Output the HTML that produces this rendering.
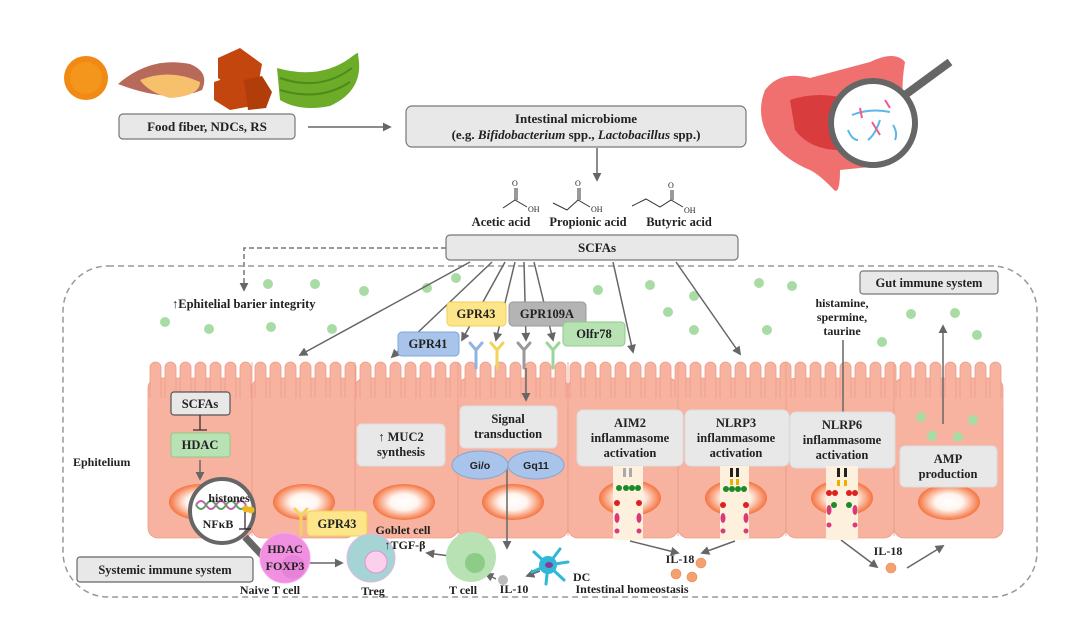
<!DOCTYPE html>
<html><head><meta charset="utf-8"><style>
html,body{margin:0;padding:0;background:#fff}
svg{display:block}
text{font-family:"Liberation Serif",serif;font-weight:bold;fill:#222}
</style></head><body>
<svg width="1080" height="618" viewBox="0 0 1080 618" xmlns="http://www.w3.org/2000/svg">
<defs>
<marker id="ah" viewBox="0 0 10 10" refX="8" refY="5" markerWidth="6" markerHeight="6" orient="auto"><path d="M0,0 L10,5 L0,10 z" fill="#666"/></marker>
<pattern id="vil" x="148" y="0" width="15" height="618" patternUnits="userSpaceOnUse">
<rect x="2" y="362" width="11" height="80" rx="5.5" fill="#f7b2a0" stroke="#eb9c88" stroke-width="0.8"/>
</pattern>
<radialGradient id="nuc" cx="50%" cy="50%" r="50%"><stop offset="0" stop-color="#fff"/><stop offset="0.45" stop-color="#fff5ef"/><stop offset="1" stop-color="#f5733f"/></radialGradient>
</defs>

<!-- food -->
<circle cx="86" cy="78" r="22" fill="#f08a14"/>
<circle cx="86" cy="78" r="16" fill="#f59a20" opacity=".7"/>
<path d="M118,84 Q150,56 190,64 Q210,72 202,90 Q170,104 118,84z" fill="#b86a5a"/>
<path d="M140,80 Q170,68 200,82 Q200,96 170,98 Q148,92 140,80z" fill="#f6c06c"/>
<path d="M218,58 L240,48 L262,64 L258,86 L236,92 L218,78z" fill="#c2460e"/>
<path d="M214,82 L232,76 L254,88 L252,106 L230,110 L214,100z" fill="#c2460e"/>
<path d="M244,80 L262,76 L272,92 L266,108 L248,110z" fill="#b03d0a"/>
<path d="M277,68 Q320,80 350,58 Q360,50 358,55 Q365,90 330,106 Q300,112 280,100z" fill="#6cac28"/>
<path d="M280,78 Q320,92 352,68" stroke="#4d8a1c" fill="none" stroke-width="2"/>
<path d="M280,90 Q320,102 350,82" stroke="#4d8a1c" fill="none" stroke-width="2"/>

<!-- top boxes -->
<rect x="119" y="114" width="176" height="25" rx="4" fill="#e8e8e8" stroke="#777" stroke-width="1.2"/>
<text x="207" y="131" font-size="13" text-anchor="middle">Food fiber, NDCs, RS</text>
<line x1="308" y1="127" x2="390" y2="127" stroke="#666" stroke-width="1.5" marker-end="url(#ah)"/>
<rect x="406" y="106" width="340" height="41" rx="6" fill="#e8e8e8" stroke="#777" stroke-width="1.2"/>
<text x="576" y="123" font-size="13" text-anchor="middle">Intestinal microbiome</text>
<text x="576" y="139" font-size="13" text-anchor="middle">(e.g. <tspan font-style="italic">Bifidobacterium</tspan> spp., <tspan font-style="italic">Lactobacillus</tspan> spp.)</text>
<line x1="597" y1="148" x2="597" y2="180" stroke="#666" stroke-width="1.5" marker-end="url(#ah)"/>

<!-- intestine -->
<path d="M765,90 Q780,70 810,78 Q840,70 870,62 Q895,50 905,62 Q900,90 905,120 Q900,150 890,165 L840,170 Q840,195 834,190 Q820,175 810,170 Q785,160 770,140 Q755,115 765,90z" fill="#f07070"/>
<path d="M790,100 Q820,90 850,100 Q860,130 840,150 Q810,150 795,130z" fill="#d83c3c"/>
<circle cx="873" cy="123" r="42" fill="#fff" stroke="#666" stroke-width="6"/>
<line x1="905" y1="95" x2="950" y2="62" stroke="#666" stroke-width="8"/>
<path d="M852,115 Q870,108 890,112 M848,130 Q852,140 858,140 M880,120 Q875,135 868,140 M893,125 Q898,133 895,140" stroke="#5bb7e6" stroke-width="2" fill="none"/>
<path d="M872,122 L880,135 M885,100 L890,108 M860,108 L862,118" stroke="#ee5b8a" stroke-width="2" fill="none"/>

<!-- acids -->
<g stroke="#333" stroke-width="1" fill="none">
<path d="M503,208 L515,200 L527,207 M515,200 L515,188 M517,200 L517,188"/>
<path d="M553,203 L567,210 L578,200 L590,207 M578,200 L578,188 M580,200 L580,188"/>
<path d="M632,206 L646,199 L660,207 L671,200 L683,207 M671,200 L671,190 M673,200 L673,190"/>
</g>
<g font-size="8"><text x="512" y="186" style="font-weight:normal">O</text><text x="528" y="212" style="font-weight:normal">OH</text>
<text x="575" y="186" style="font-weight:normal">O</text><text x="591" y="212" style="font-weight:normal">OH</text>
<text x="668" y="188" style="font-weight:normal">O</text><text x="684" y="213" style="font-weight:normal">OH</text></g>
<text x="501" y="226" font-size="12.5" text-anchor="middle">Acetic acid</text>
<text x="588" y="226" font-size="12.5" text-anchor="middle">Propionic acid</text>
<text x="679" y="226" font-size="12.5" text-anchor="middle">Butyric acid</text>

<!-- SCFAs box -->
<rect x="446" y="235" width="292" height="25" rx="4" fill="#e8e8e8" stroke="#777" stroke-width="1.2"/>
<text x="597" y="252" font-size="13" text-anchor="middle">SCFAs</text>
<path d="M446,248 L244,248 L244,290" stroke="#777" stroke-width="1.5" fill="none" stroke-dasharray="5,3" marker-end="url(#ah)"/>

<!-- dashed container -->
<rect x="63" y="266" width="974" height="331" rx="45" fill="none" stroke="#999" stroke-width="1.5" stroke-dasharray="6,4"/>
<text x="172" y="308" font-size="12.5">↑Ephitelial barier integrity</text>
<rect x="860" y="271" width="138" height="23" rx="3" fill="#e8e8e8" stroke="#777" stroke-width="1.2"/>
<text x="929" y="287" font-size="12.5" text-anchor="middle">Gut immune system</text>
<text x="842" y="307" font-size="12" text-anchor="middle">histamine,</text>
<text x="842" y="321" font-size="12" text-anchor="middle">spermine,</text>
<text x="842" y="335" font-size="12" text-anchor="middle">taurine</text>

<!-- green dots -->
<g fill="#a8dca4">
<circle cx="268" cy="284" r="5"/><circle cx="315" cy="284" r="5"/><circle cx="364" cy="291" r="5"/><circle cx="427" cy="288" r="5"/><circle cx="456" cy="278" r="5"/>
<circle cx="165" cy="322" r="5"/><circle cx="209" cy="329" r="5"/><circle cx="271" cy="327" r="5"/><circle cx="332" cy="329" r="5"/>
<circle cx="598" cy="290" r="5"/><circle cx="650" cy="285" r="5"/><circle cx="668" cy="312" r="5"/><circle cx="694" cy="296" r="5"/><circle cx="694" cy="330" r="5"/>
<circle cx="759" cy="283" r="5"/><circle cx="792" cy="286" r="5"/><circle cx="767" cy="330" r="5"/>
<circle cx="911" cy="314" r="5"/><circle cx="955" cy="313" r="5"/><circle cx="882" cy="342" r="5"/><circle cx="977" cy="335" r="5"/>
</g>

<!-- cells -->
<g fill="#f7b2a0" stroke="#eb9c88" stroke-width="0.8">
<rect x="148" y="378" width="104" height="160" rx="10"/>
<rect x="252" y="378" width="103" height="160" rx="10"/>
<rect x="355" y="378" width="103" height="160" rx="10"/>
<rect x="458" y="378" width="110" height="160" rx="10"/>
<rect x="568" y="378" width="110" height="160" rx="10"/>
<rect x="678" y="378" width="108" height="160" rx="10"/>
<rect x="786" y="378" width="108" height="160" rx="10"/>
<rect x="894" y="378" width="109" height="160" rx="10"/>
</g>
<rect x="148" y="358" width="855" height="46" fill="url(#vil)"/>
<rect x="148" y="398" width="855" height="10" fill="#f7b2a0"/>
<g stroke="#eb9c88" stroke-width="0.8"><line x1="252" y1="362" x2="252" y2="536"/><line x1="355" y1="362" x2="355" y2="536"/><line x1="458" y1="362" x2="458" y2="536"/><line x1="568" y1="362" x2="568" y2="536"/><line x1="678" y1="362" x2="678" y2="536"/><line x1="786" y1="362" x2="786" y2="536"/><line x1="894" y1="362" x2="894" y2="536"/></g>

<!-- nuclei -->
<g fill="url(#nuc)">
<ellipse cx="200" cy="502" rx="31" ry="18"/><ellipse cx="304" cy="502" rx="31" ry="18"/><ellipse cx="404" cy="502" rx="31" ry="18"/><ellipse cx="513" cy="502" rx="31" ry="18"/>
<ellipse cx="630" cy="498" rx="31" ry="18"/><ellipse cx="736" cy="498" rx="31" ry="18"/><ellipse cx="842" cy="498" rx="31" ry="18"/><ellipse cx="949" cy="502" rx="31" ry="18"/>
</g>

<!-- arrows -->
<g stroke="#666" stroke-width="1.5" fill="none" marker-end="url(#ah)">
<line x1="470" y1="262" x2="300" y2="355"/>
<line x1="492" y1="262" x2="392" y2="357"/>
<line x1="505" y1="262" x2="462" y2="340"/>
<line x1="515" y1="262" x2="496" y2="340"/>
<line x1="524" y1="262" x2="526" y2="340"/>
<line x1="534" y1="262" x2="553" y2="340"/>
<line x1="613" y1="262" x2="633" y2="352"/>
<line x1="676" y1="262" x2="740" y2="354"/>
<line x1="526" y1="368" x2="526" y2="400"/>
<line x1="943" y1="424" x2="943" y2="326"/>
<line x1="200" y1="460" x2="200" y2="479"/>
<line x1="507" y1="465" x2="507" y2="548"/>
<line x1="630" y1="541" x2="678" y2="553"/>
<line x1="735" y1="541" x2="702" y2="553"/>
<line x1="841" y1="540" x2="877" y2="567"/>
<line x1="907" y1="568" x2="943" y2="546"/>
<line x1="298" y1="563" x2="342" y2="563"/>
<line x1="450" y1="556" x2="427" y2="553"/>
<line x1="540" y1="571" x2="527" y2="576"/>
<line x1="496" y1="579" x2="486" y2="574"/>
</g>
<line x1="843" y1="340" x2="843" y2="412" stroke="#666" stroke-width="1.5"/>

<!-- receptors -->
<g stroke-width="3" fill="none" stroke-linecap="round">
<path d="M476,368 L476,350 M470,343 L476,350 L482,343" stroke="#8fb4e0"/>
<path d="M497,368 L497,350 M491,343 L497,350 L503,343" stroke="#f2d35c"/>
<path d="M524,368 L524,350 M518,343 L524,350 L530,343" stroke="#9a9a9a"/>
<path d="M553,368 L553,350 M547,343 L553,350 L559,343" stroke="#9ed49a"/>
<path d="M301,534 L301,516 M295,509 L301,516 L307,509" stroke="#f2d35c"/>
</g>

<!-- GPR boxes -->
<rect x="447" y="302" width="59" height="24" rx="4" fill="#fde58a" stroke="#f2cf55"/>
<text x="476" y="318" font-size="12.5" text-anchor="middle">GPR43</text>
<rect x="509" y="302" width="77" height="24" rx="4" fill="#b4b4b4" stroke="#999"/>
<text x="547" y="318" font-size="12.5" text-anchor="middle">GPR109A</text>
<rect x="398" y="332" width="61" height="24" rx="4" fill="#a8c4ea" stroke="#82a6d8"/>
<text x="428" y="348" font-size="12.5" text-anchor="middle">GPR41</text>
<rect x="563" y="322" width="62" height="24" rx="4" fill="#b8e2b4" stroke="#8ccc86"/>
<text x="594" y="338" font-size="12.5" text-anchor="middle">Olfr78</text>

<!-- cell boxes -->
<rect x="171" y="392" width="59" height="23" rx="3" fill="#e8e8e8" stroke="#555" stroke-width="1.2"/>
<text x="200" y="408" font-size="12.5" text-anchor="middle">SCFAs</text>
<path d="M200,415 L200,430 M193,430 L207,430" stroke="#333" stroke-width="1.3"/>
<rect x="171" y="433" width="59" height="24" rx="3" fill="#b8e2b4" stroke="#8ccc86"/>
<text x="200" y="449" font-size="12.5" text-anchor="middle">HDAC</text>
<rect x="357" y="424" width="88" height="42" rx="5" fill="#e8e8e8" stroke="#ddd"/>
<text x="401" y="441" font-size="12.5" text-anchor="middle">↑ MUC2</text>
<text x="401" y="456" font-size="12.5" text-anchor="middle">synthesis</text>
<rect x="460" y="406" width="97" height="42" rx="5" fill="#e8e8e8" stroke="#ddd"/>
<text x="508" y="423" font-size="12.5" text-anchor="middle">Signal</text>
<text x="508" y="438" font-size="12.5" text-anchor="middle">transduction</text>
<ellipse cx="480" cy="465" rx="28" ry="14" fill="#a8c4ea" stroke="#82a6d8"/>
<ellipse cx="536" cy="465" rx="28" ry="14" fill="#a8c4ea" stroke="#82a6d8"/>
<text x="480" y="469" font-size="10.5" text-anchor="middle" style="font-family:'Liberation Sans',sans-serif">Gi/o</text>
<text x="536" y="469" font-size="10.5" text-anchor="middle" style="font-family:'Liberation Sans',sans-serif">Gq11</text>
<rect x="577" y="410" width="106" height="56" rx="6" fill="#e8e8e8" stroke="#ddd"/>
<text x="630" y="427" font-size="12.5" text-anchor="middle">AIM2</text>
<text x="630" y="442" font-size="12.5" text-anchor="middle">inflammasome</text>
<text x="630" y="457" font-size="12.5" text-anchor="middle">activation</text>
<rect x="685" y="410" width="104" height="56" rx="6" fill="#e8e8e8" stroke="#ddd"/>
<text x="736" y="427" font-size="12.5" text-anchor="middle">NLRP3</text>
<text x="736" y="442" font-size="12.5" text-anchor="middle">inflammasome</text>
<text x="736" y="457" font-size="12.5" text-anchor="middle">activation</text>
<rect x="790" y="412" width="105" height="56" rx="6" fill="#e8e8e8" stroke="#ddd"/>
<text x="842" y="429" font-size="12.5" text-anchor="middle">NLRP6</text>
<text x="842" y="444" font-size="12.5" text-anchor="middle">inflammasome</text>
<text x="842" y="459" font-size="12.5" text-anchor="middle">activation</text>
<g fill="#a8dca4"><circle cx="921" cy="417" r="5"/><circle cx="973" cy="420" r="5"/><circle cx="932" cy="436" r="5"/><circle cx="958" cy="437" r="5"/></g>
<rect x="900" y="446" width="97" height="41" rx="5" fill="#e8e8e8" stroke="#ddd"/>
<text x="948" y="463" font-size="12.5" text-anchor="middle">AMP</text>
<text x="948" y="478" font-size="12.5" text-anchor="middle">production</text>

<!-- inflammasome strips -->
<g>
<rect x="613" y="466" width="30" height="74" fill="#fdf0dc"/>
<rect x="720" y="466" width="29" height="74" fill="#fdf0dc"/>
<rect x="826" y="466" width="32" height="74" fill="#fdf0dc"/>
<g fill="#aaa"><rect x="623" y="468" width="3" height="9"/><rect x="629" y="468" width="3" height="9"/></g>
<g fill="#222"><rect x="730" y="468" width="3" height="9"/><rect x="736" y="468" width="3" height="9"/><rect x="837" y="468" width="3" height="9"/><rect x="844" y="468" width="3" height="9"/></g>
<g fill="#e8b000"><rect x="730" y="479" width="3" height="6"/><rect x="736" y="479" width="3" height="6"/><rect x="837" y="480" width="3" height="6"/><rect x="844" y="480" width="3" height="6"/></g>
<g fill="#1a8a2a"><circle cx="619" cy="488" r="3"/><circle cx="626" cy="488" r="3"/><circle cx="632" cy="488" r="3"/><circle cx="638" cy="488" r="3"/><circle cx="726" cy="489" r="3"/><circle cx="732" cy="489" r="3"/><circle cx="738" cy="489" r="3"/><circle cx="744" cy="489" r="3"/><circle cx="834" cy="505" r="3"/><circle cx="849" cy="505" r="3"/></g>
<g fill="#dd2020"><circle cx="617" cy="503" r="3"/><circle cx="639" cy="503" r="3"/><circle cx="723" cy="505" r="3"/><circle cx="746" cy="505" r="3"/><circle cx="829" cy="493" r="3"/><circle cx="835" cy="493" r="3"/><circle cx="849" cy="493" r="3"/><circle cx="855" cy="493" r="3"/></g>
<g fill="#d83a7a"><ellipse cx="617" cy="518" rx="2.5" ry="5"/><ellipse cx="639" cy="518" rx="2.5" ry="5"/><circle cx="617" cy="531" r="2.5"/><circle cx="639" cy="531" r="2.5"/><ellipse cx="723" cy="518" rx="2.5" ry="5"/><ellipse cx="746" cy="518" rx="2.5" ry="5"/><circle cx="723" cy="531" r="2.5"/><circle cx="746" cy="531" r="2.5"/><ellipse cx="829" cy="510" rx="2.5" ry="5"/><ellipse cx="855" cy="510" rx="2.5" ry="5"/><circle cx="829" cy="525" r="2.5"/><circle cx="855" cy="525" r="2.5"/></g>
</g>

<!-- magnifier -->
<line x1="245" y1="537" x2="272" y2="566" stroke="#666" stroke-width="7"/>
<circle cx="222" cy="511" r="32" fill="#fff" stroke="#666" stroke-width="4"/>
<path d="M196,505 Q201,497 206,505 T216,505 T226,505 T236,505 T246,505" stroke="#c060b0" stroke-width="2" fill="none"/>
<path d="M196,505 Q201,513 206,505 T216,505 T226,505 T236,505 T246,505" stroke="#60a060" stroke-width="2" fill="none"/>
<text x="229" y="502" font-size="12" text-anchor="middle">histones</text>
<circle cx="246" cy="509" r="3.5" fill="#f0b820"/><circle cx="251" cy="510" r="3.5" fill="#f0b820"/>
<text x="218" y="528" font-size="12" text-anchor="middle">NFκB</text>
<path d="M245,512 L245,529 M239,529 L251,529" stroke="#222" stroke-width="1.2"/>

<text x="73" y="466" font-size="12">Ephitelium</text>
<rect x="77" y="557" width="176" height="25" rx="3" fill="#e8e8e8" stroke="#666" stroke-width="1.2"/>
<text x="165" y="574" font-size="12.5" text-anchor="middle">Systemic immune system</text>

<!-- immune cells -->
<rect x="307" y="511" width="60" height="25" rx="4" fill="#fde58a" stroke="#f2cf55"/>
<text x="337" y="528" font-size="12.5" text-anchor="middle">GPR43</text>
<circle cx="285" cy="558" r="25" fill="#f18fe0" stroke="#f6a8ea"/>
<circle cx="293" cy="567" r="12" fill="#e07ad0" opacity=".6"/>
<text x="285" y="553" font-size="12" text-anchor="middle">HDAC</text>
<text x="285" y="570" font-size="12" text-anchor="middle">FOXP3</text>
<text x="270" y="594" font-size="12" text-anchor="middle">Naive T cell</text>
<circle cx="371" cy="558" r="24" fill="#a4d4d4" stroke="#e6b4e6"/>
<circle cx="376" cy="562" r="11" fill="#fad0ec" stroke="#e890d8"/>
<text x="373" y="595" font-size="12" text-anchor="middle">Treg</text>
<text x="403" y="534" font-size="12" text-anchor="middle">Goblet cell</text>
<text x="405" y="549" font-size="12" text-anchor="middle">↑TGF-β</text>
<circle cx="471" cy="557" r="25" fill="#b8e2b4"/>
<circle cx="475" cy="563" r="10" fill="#8ccc86"/>
<text x="463" y="594" font-size="12" text-anchor="middle">T cell</text>
<circle cx="503" cy="580" r="5" fill="#bbb"/>
<text x="514" y="593" font-size="12" text-anchor="middle">IL-10</text>
<g stroke="#2fb8d8" stroke-width="3" stroke-linecap="round">
<line x1="548" y1="565" x2="534" y2="552"/><line x1="548" y1="565" x2="560" y2="549"/><line x1="548" y1="565" x2="568" y2="562"/><line x1="548" y1="565" x2="564" y2="580"/><line x1="548" y1="565" x2="546" y2="584"/><line x1="548" y1="565" x2="532" y2="572"/></g>
<circle cx="548" cy="565" r="9" fill="#2fb8d8"/><ellipse cx="549" cy="565" rx="4" ry="3" fill="#8a3a9a"/>
<text x="573" y="581" font-size="12">DC</text>

<text x="680" y="563" font-size="12" text-anchor="middle">IL-18</text>
<g fill="#f4a070" stroke="#e88a50" stroke-width=".6"><circle cx="701" cy="563" r="5"/><circle cx="676" cy="574" r="5"/><circle cx="692" cy="577" r="5"/><circle cx="891" cy="568" r="5"/></g>
<text x="632" y="593" font-size="12" text-anchor="middle">Intestinal homeostasis</text>
<text x="888" y="555" font-size="12" text-anchor="middle">IL-18</text>
</svg>
</body></html>
